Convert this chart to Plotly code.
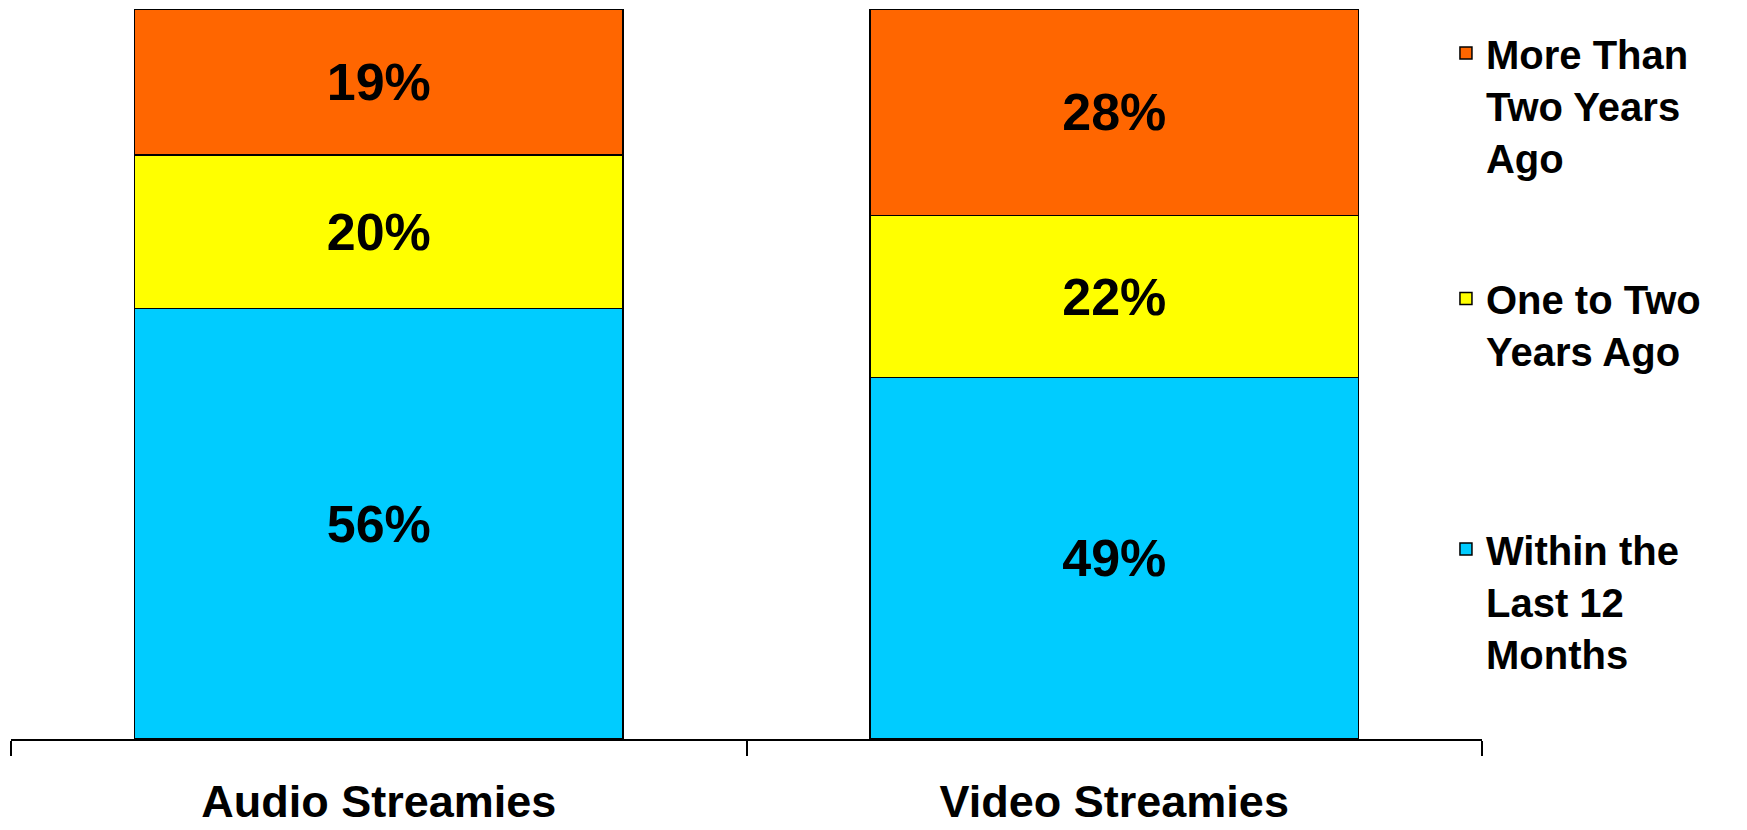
import plotly.graph_objects as go

categories = ["Audio Streamies", "Video Streamies"]
within_12_months = [56, 49]
one_to_two_years = [20, 22]
more_than_two_years = [19, 28]

series_names = [
    "Within the<br>Last 12<br>Months",
    "One to Two<br>Years Ago",
    "More Than<br>Two Years<br>Ago",
]
series_values = [within_12_months, one_to_two_years, more_than_two_years]
series_colors = ["#00CCFF", "#FFFF00", "#FF6600"]
legend_ids = ["legend3", "legend2", "legend"]

FONT = "Liberation Sans, Arial, sans-serif"

fig = go.Figure()
for name, vals, col, lg in zip(series_names, series_values, series_colors, legend_ids):
    fig.add_trace(go.Bar(
        x=categories,
        y=vals,
        name=name,
        marker=dict(color=col, line=dict(color="black", width=1.5)),
        text=[f"{v}%" for v in vals],
        textposition="inside",
        insidetextanchor="middle",
        textangle=0,
        textfont=dict(family=FONT, size=52, color="black", weight="bold"),
        width=0.664,
        legend=lg,
        showlegend=True,
    ))

legend_common = dict(
    font=dict(family=FONT, size=40, color="black", weight="bold"),
    xanchor="left",
    yanchor="middle",
    x=0.9755,
    valign="top",
    bgcolor="rgba(0,0,0,0)",
    borderwidth=0,
    visible=True,
)

fig.update_layout(
    width=1747,
    height=830,
    barmode="stack",
    barnorm="percent",
    showlegend=True,
    plot_bgcolor="white",
    paper_bgcolor="white",
    margin=dict(l=11, r=265, t=9, b=91, autoexpand=False),
    legend=dict(**legend_common, y=0.8685),
    legend2=dict(**legend_common, y=0.5678),
    legend3=dict(**legend_common, y=0.189),
    xaxis=dict(
        showline=True,
        linecolor="black",
        linewidth=2,
        ticks="outside",
        tickson="boundaries",
        ticklen=15,
        tickwidth=1.5,
        tickcolor="black",
        tickfont=dict(family=FONT, size=45, color="black", weight="bold"),
        ticklabelstandoff=22,
        range=[-0.5, 1.5],
        automargin=False,
        showgrid=False,
    ),
    yaxis=dict(
        range=[0, 100],
        visible=False,
        showgrid=False,
        zeroline=False,
    ),
)

fig.write_html("out.html")
